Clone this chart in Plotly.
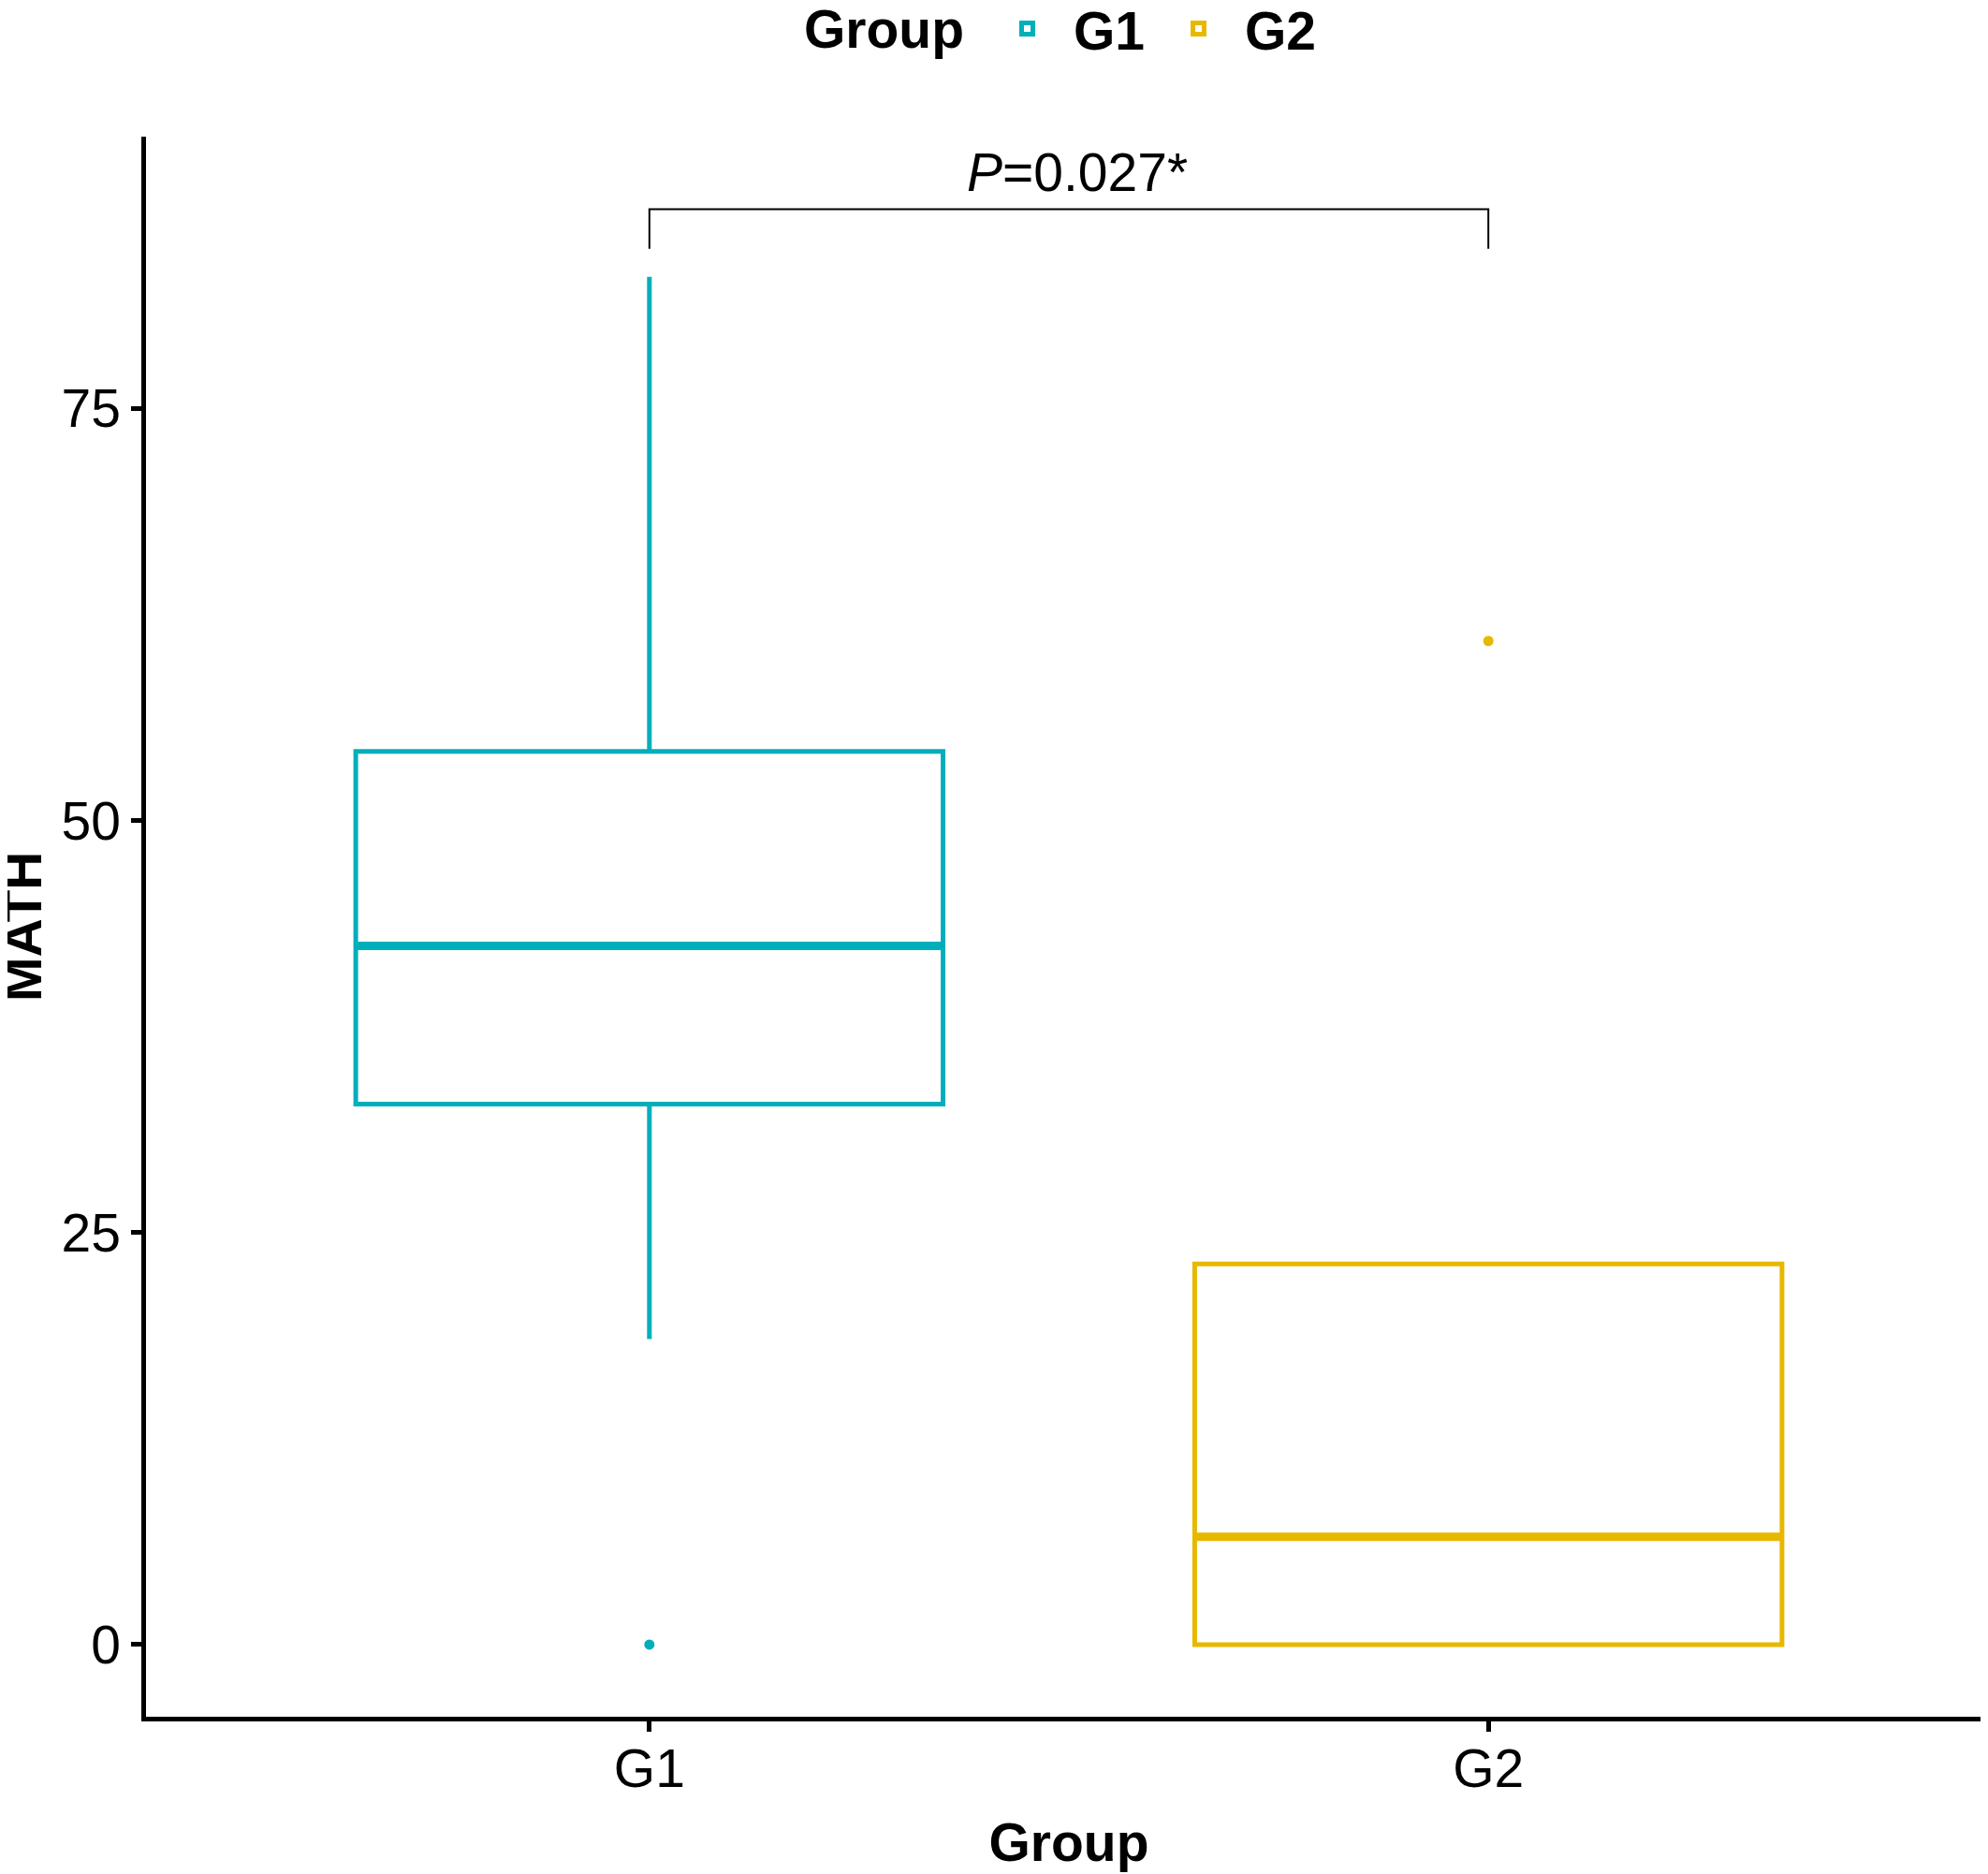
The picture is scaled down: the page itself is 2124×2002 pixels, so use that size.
import plotly.graph_objects as go

categories = ["G1", "G2"]
colors = ["#00AFBB", "#E7B800"]
q1 = [32.8, 0.0]
median = [42.4, 6.55]
q3 = [54.2, 23.1]
lowerfence = [18.55, 0.0]
upperfence = [83.0, 23.1]
outliers = [[0.0], [60.9]]
p_label = "<i>P</i>=0.027*"
y_ticks = [0, 25, 50, 75]
legend_title = "Group"
x_title = "Group"
y_title = "MATH"

FONT = "Liberation Sans"
FS = 57
box_w = 0.7
L, R, T, B = 148, 4, 138, 176
W, H = 2124, 2002
plot_w = W - L - R
plot_h = H - T - B

fig = go.Figure()
xpos = [i + 1 for i in range(len(categories))]

for i, cat in enumerate(categories):
    fig.add_trace(go.Box(
        x=[xpos[i]], q1=[q1[i]], median=[median[i]], q3=[q3[i]],
        lowerfence=[lowerfence[i]], upperfence=[upperfence[i]],
        name=cat, width=box_w, boxpoints=False,
        line=dict(color=colors[i], width=5), fillcolor="white",
        whiskerwidth=0, legendgroup=cat, showlegend=True,
    ))
    # thicker median line
    fig.add_trace(go.Scatter(
        x=[xpos[i] - box_w / 2, xpos[i] + box_w / 2], y=[median[i], median[i]],
        mode="lines", line=dict(color=colors[i], width=9),
        showlegend=False, hoverinfo="skip", legendgroup=cat,
    ))
    fig.add_trace(go.Scatter(
        x=[xpos[i]] * len(outliers[i]), y=outliers[i], mode="markers",
        marker=dict(color=colors[i], size=11), showlegend=False, legendgroup=cat,
    ))

# significance bracket
y_low, y_high = 84.7, 87.1
fig.add_trace(go.Scatter(
    x=[xpos[0], xpos[0], xpos[1], xpos[1]], y=[y_low, y_high, y_high, y_low],
    mode="lines", line=dict(color="black", width=2),
    showlegend=False, hoverinfo="skip",
))
fig.add_annotation(
    x=(xpos[0] + xpos[1]) / 2, y=y_high, yshift=5, xshift=9, text=p_label,
    showarrow=False, yanchor="bottom",
    font=dict(family=FONT, size=FS, color="black"),
)

legend_y = 1 + (T - 23) / plot_h
legend_x = (1040 - L) / plot_w
# legend title as text left of the legend items
fig.add_annotation(
    xref="paper", yref="paper", x=legend_x, y=legend_y, xanchor="right",
    yanchor="middle", xshift=-16, text=f"<b>{legend_title}</b>", showarrow=False,
    font=dict(family=FONT, size=FS, color="black"),
)
# y axis title
fig.add_annotation(
    xref="paper", yref="paper", x=0, y=0.5, xanchor="center", yanchor="middle",
    xshift=16 - L, textangle=-90, text=f"<b>{y_title}</b>", showarrow=False,
    font=dict(family=FONT, size=FS, color="black"),
)

fig.update_layout(
    width=W, height=H,
    margin=dict(l=L, r=R, t=T, b=B, autoexpand=False),
    plot_bgcolor="white", paper_bgcolor="white",
    font=dict(family=FONT, size=FS, color="black"),
    legend=dict(
        orientation="h", x=legend_x, xanchor="left", y=legend_y, yanchor="middle",
        font=dict(family=FONT, size=FS, weight="bold"), itemwidth=89,
        entrywidth=79, entrywidthmode="pixels",
    ),
    xaxis=dict(
        range=[0.4, 2.6], tickmode="array", tickvals=xpos,
        ticktext=categories, showline=True, linecolor="black", linewidth=4.5,
        ticks="outside", ticklen=11, tickwidth=4.5, tickcolor="black",
        showgrid=False, zeroline=False, ticklabelstandoff=-9,
        title=dict(text=f"<b>{x_title}</b>", font=dict(family=FONT, size=FS), standoff=29),
        tickfont=dict(family=FONT, size=FS),
    ),
    yaxis=dict(
        range=[-4.375, 91.5], tickmode="array", tickvals=y_ticks,
        showline=True, linecolor="black", linewidth=4.5,
        ticks="outside", ticklen=11, tickwidth=4.5, tickcolor="black",
        showgrid=False, zeroline=False, ticklabelstandoff=0,
        tickfont=dict(family=FONT, size=FS),
    ),
)

fig.write_html("out.html")
